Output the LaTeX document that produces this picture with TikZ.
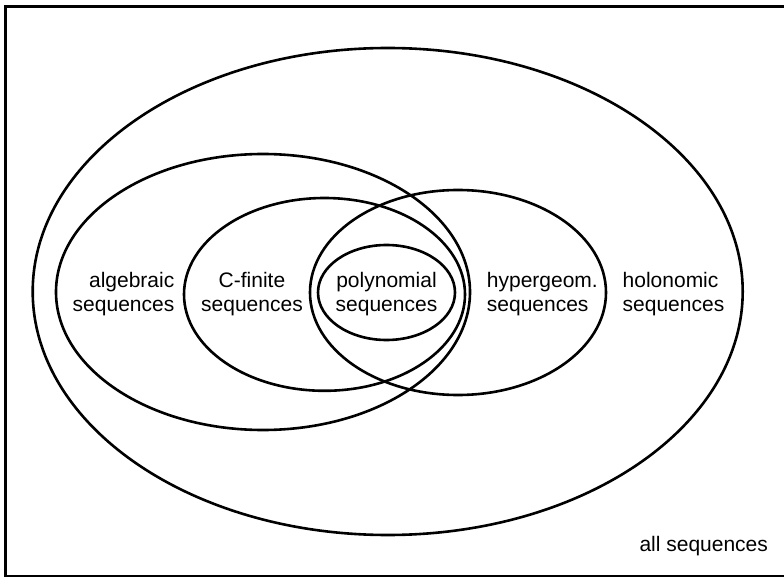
\documentclass[tikz,border=0pt]{standalone}
\usepackage{fontspec}
\setmainfont{Liberation Sans}
\tikzset{
  setline/.style={line width=2.6pt, black},
  lbl/.style={inner sep=0pt, font=\fontsize{21}{23.5}\selectfont},
}
\begin{document}
\begin{tikzpicture}[x=1pt,y=-1pt]
\useasboundingbox (0,0) rectangle (784,577);
\clip (0,0) rectangle (784,577);
\fill[white] (0,0) rectangle (784,577);
% frame
\draw[line width=2.6pt] (5.5,6.5) rectangle (800,576.5);
% sets
\draw[setline] (387.7,291.5) ellipse [x radius=355pt, y radius=243.5pt];
\draw[setline] (263,292) ellipse [x radius=207pt, y radius=138pt];
\draw[setline] (324.5,294.4) ellipse [x radius=140.5pt, y radius=96.4pt];
\draw[setline] (458,292.5) ellipse [x radius=148pt, y radius=102.5pt];
\draw[setline] (386.5,292.5) ellipse [x radius=68.5pt, y radius=47.5pt];
% labels
\node[lbl, align=right, anchor=east] (alg) at (174.5,294) {algebraic\\sequences};
\node[lbl, align=center] (cfin) at (252,294) {C-finite\\sequences};
\node[lbl, align=center] (poly) at (386.5,294) {polynomial\\sequences};
\node[lbl, align=left, anchor=west] (hyp) at (486.7,294) {hypergeom.\\sequences};
\node[lbl, align=left, anchor=west] (hol) at (622.5,294) {holonomic\\sequences};
\node[lbl, anchor=base west] (all) at (639.3,551) {all sequences};
\end{tikzpicture}
\end{document}
